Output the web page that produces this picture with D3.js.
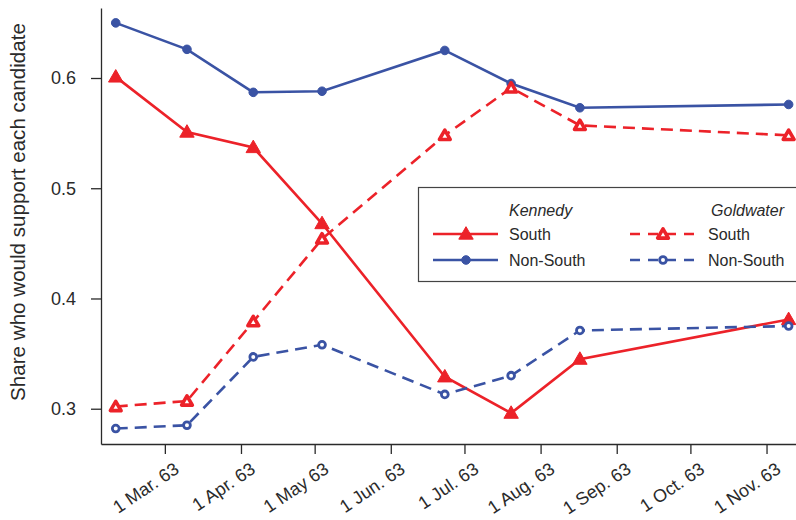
<!DOCTYPE html>
<html>
<head>
<meta charset="utf-8">
<script src="https://cdn.jsdelivr.net/npm/d3@7"></script>
<style>
  body { margin: 0; background: #fff; }
  svg { font-family: "Liberation Sans", Arial, sans-serif; }
</style>
</head>
<body>
<div id="chart"></div>
<script>
var svgWidth = 796
var svgHeight = 520

// poll dates and shares
var pollDates = ["1963-02-09", "1963-03-10", "1963-04-06", "1963-05-04",
                 "1963-06-23", "1963-07-20", "1963-08-17", "1963-11-10"]
var kennedySouth    = [0.601, 0.551, 0.537, 0.468, 0.329, 0.296, 0.345, 0.381]
var kennedyNonSouth = [0.650, 0.626, 0.587, 0.588, 0.625, 0.595, 0.573, 0.576]
var goldwaterSouth    = [0.302, 0.307, 0.379, 0.454, 0.548, 0.591, 0.557, 0.548]
var goldwaterNonSouth = [0.282, 0.285, 0.347, 0.358, 0.313, 0.330, 0.371, 0.375]

var yTicks = [0.3, 0.4, 0.5, 0.6]
var xTicks = ["1963-03-01", "1963-04-01", "1963-05-01", "1963-06-01", "1963-07-01",
              "1963-08-01", "1963-09-01", "1963-10-01", "1963-11-01"]
var xTickLabels = ["1 Mar. 63", "1 Apr. 63", "1 May 63", "1 Jun. 63", "1 Jul. 63",
                   "1 Aug. 63", "1 Sep. 63", "1 Oct. 63", "1 Nov. 63"]

var red = "#ec2229"
var blue = "#3a53a4"
var ink = "#2a2a2a"

var parse = d3.timeParse("%Y-%m-%d")

var x = d3.scaleTime()
    .domain([parse("1963-02-03"), parse("1963-11-13")])
    .range([101, 796])
var y = d3.scaleLinear()
    .domain([0.268, 0.6635])
    .range([444, 8])

var svg = d3.select("#chart").append("svg")
    .attr("width", svgWidth)
    .attr("height", svgHeight)

// axes (L-shaped box)
var yAxis = svg.append("g")
    .attr("transform", "translate(101,0)")
    .call(d3.axisLeft(y).tickValues(yTicks).tickFormat(d3.format(".1f")).tickSize(10).tickSizeOuter(0))
yAxis.select(".domain").attr("stroke", ink).attr("stroke-width", 1.3)
yAxis.selectAll(".tick line").attr("stroke", ink).attr("stroke-width", 1.3)
yAxis.selectAll(".tick text")
    .attr("font-size", 18)
    .attr("fill", ink)
    .attr("x", -25)

var xAxis = svg.append("g")
    .attr("transform", "translate(0,444)")
    .call(d3.axisBottom(x).tickValues(xTicks.map(parse)).tickSize(10).tickSizeOuter(0)
        .tickFormat(function(d, i) { return xTickLabels[i] }))
xAxis.select(".domain").attr("stroke", ink).attr("stroke-width", 1.3)
xAxis.selectAll(".tick line").attr("stroke", ink).attr("stroke-width", 1.3)
xAxis.selectAll(".tick text")
    .attr("font-size", 18)
    .attr("fill", ink)
    .attr("text-anchor", "end")
    .attr("x", 0).attr("y", 0).attr("dy", 0)
    .attr("transform", "translate(15,28) rotate(-34)")

svg.append("text")
    .attr("transform", "translate(25,212) rotate(-90)")
    .attr("text-anchor", "middle")
    .attr("font-size", 20.6)
    .attr("fill", ink)
    .text("Share who would support each candidate")

var series = [
  {values: kennedyNonSouth, color: blue, dash: null, shape: "circle", filled: true},
  {values: kennedySouth, color: red, dash: null, shape: "triangle", filled: true},
  {values: goldwaterNonSouth, color: blue, dash: "12,7", shape: "circle", filled: false},
  {values: goldwaterSouth, color: red, dash: "12,7", shape: "triangle", filled: false}
]

var line = d3.line()
    .x(function(d) { return x(d.date) })
    .y(function(d) { return y(d.v) })

function marker(sel, s) {
  if (s.shape == "circle") {
    sel.append("circle")
      .attr("r", s.filled ? 4.3 : 3.4)
      .attr("fill", s.filled ? s.color : "#fff")
      .attr("stroke", s.color)
      .attr("stroke-width", s.filled ? 1 : 2.8)
  } else {
    sel.append("path")
      .attr("d", d3.symbol().type(d3.symbolTriangle).size(s.filled ? 90 : 50)())
      .attr("transform", "translate(0,1)")
      .attr("fill", s.filled ? s.color : "#fff")
      .attr("stroke", s.color)
      .attr("stroke-width", s.filled ? 1 : 3.6)
      .attr("stroke-linejoin", "round")
  }
}

series.forEach(function(s) {
  var pts = s.values.map(function(v, i) { return {date: parse(pollDates[i]), v: v} })
  svg.append("path")
    .datum(pts)
    .attr("d", line)
    .attr("fill", "none")
    .attr("stroke", s.color)
    .attr("stroke-width", 2.6)
    .attr("stroke-dasharray", s.dash)
  pts.forEach(function(p) {
    var g = svg.append("g").attr("transform", "translate(" + x(p.date) + "," + y(p.v) + ")")
    marker(g, s)
  })
})

// legend
var leg = svg.append("g")
leg.append("rect")
    .attr("x", 418.5).attr("y", 187.5)
    .attr("width", 390).attr("height", 94)
    .attr("fill", "#fff")
    .attr("stroke", "#444")
    .attr("stroke-width", 1.2)

var legCols = [
  {title: "Kennedy", lx: 433, tx: 509, items: [series[1], series[0]]},
  {title: "Goldwater", lx: 630, tx: 708, items: [series[3], series[2]]}
]
var legLabels = ["South", "Non-South"]

legCols.forEach(function(c, ci) {
  leg.append("text")
    .attr("x", ci == 0 ? c.tx : 784)
    .attr("y", 216)
    .attr("text-anchor", ci == 0 ? "start" : "end")
    .attr("font-size", 16)
    .attr("font-style", "italic")
    .attr("fill", ink)
    .text(c.title)
  c.items.forEach(function(s, k) {
    var yy = 234 + k * 26
    leg.append("line")
      .attr("x1", c.lx).attr("x2", c.lx + 65)
      .attr("y1", yy).attr("y2", yy)
      .attr("stroke", s.color)
      .attr("stroke-width", 2.6)
      .attr("stroke-dasharray", s.dash ? "10,8" : null)
    var g = leg.append("g").attr("transform", "translate(" + (c.lx + 33) + "," + yy + ")")
    marker(g, s)
    leg.append("text")
      .attr("x", c.tx).attr("y", yy + 6)
      .attr("font-size", 16)
      .attr("fill", ink)
      .text(legLabels[k])
  })
})
</script>
</body>
</html>
